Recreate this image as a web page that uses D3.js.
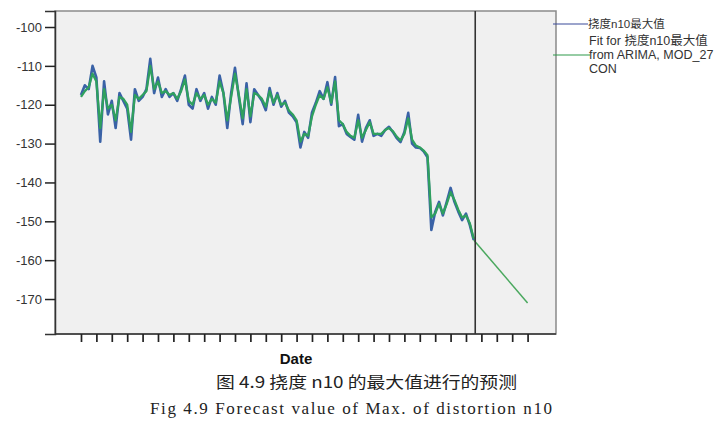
<!DOCTYPE html>
<html><head><meta charset="utf-8">
<script src="https://cdn.jsdelivr.net/npm/d3@7/dist/d3.min.js"></script>
<style>body{margin:0;background:#fff}svg{display:block}</style>
</head><body><svg id="c" width="720" height="435"></svg>
<script>
const observed = [
-117.5,-115,-116,-110,-113,-129.5,-114,-122.5,-119,-126,
-117,-119,-121,-129,-116,-119,-118,-116,-108.2,-117,
-113,-118,-116,-118,-117,-119,-116,-112.5,-120,-121,
-116,-119,-117,-121,-118,-120,-112.5,-117,-126,-117,
-110.5,-118,-125,-114.5,-124.5,-116,-117.5,-119,-121.4,-115.7,
-120,-117,-120.5,-119,-122,-123,-124.5,-131,-127,-128.5,
-122,-119.5,-116.5,-118.5,-114.2,-120,-112.9,-125.5,-125,-127.5,
-128.3,-129,-122.6,-129.5,-126,-124,-128,-127.5,-128,-126.5,
-125.7,-127,-128.6,-129.6,-127,-122.1,-130,-131,-131.1,-132,
-133.5,-152.2,-147.6,-145,-148.5,-145,-141.4,-145,-147.5,-149.7,
-148,-151,-154.8];
const fitted = [
-118,-116.5,-115.5,-112,-114,-126,-116,-121,-120,-124,
-118,-118.5,-120,-127,-117.5,-118.5,-117.5,-116.5,-110,-116,
-114,-117,-116.5,-117.5,-117,-118.5,-116.5,-113.5,-119,-120,
-117,-118.5,-117.5,-120,-118.5,-119.5,-114,-117,-124,-118,
-112,-117.5,-123.5,-116,-123,-117,-117.5,-118.5,-120.5,-116.5,
-119.5,-117.5,-120,-119.5,-121.5,-122.5,-124,-129.5,-127.5,-128,
-123,-120,-117.5,-118.5,-115.5,-119.5,-114,-124,-125,-127,
-128,-128.5,-124,-128.5,-126.5,-124.5,-127.5,-127.5,-127.5,-126.5,
-126,-126.8,-128.2,-129.2,-127.5,-123.5,-129,-130.5,-131,-131.8,
-133,-149,-148,-145.5,-148,-145.5,-142.5,-144.5,-147,-149,
-148.5,-150.5,-154.5];
const forecastIdx = [102, 116];
const forecastVal = [-154.8, -171];
const forecastStart = 102.4;
const yTicks = [-100,-110,-120,-130,-140,-150,-160,-170];
const xTickIdx = d3.range(0, 117, 4);
const legendLabels = ["挠度n10最大值", "Fit for 挠度n10最大值", "from ARIMA, MOD_27", "CON"];
const xTitle = "Date";
const captionCN = "图 4.9 挠度 n10 的最大值进行的预测";
const captionEN = "Fig 4.9 Forecast value of Max. of distortion n10";

const svg = d3.select("#c");
const L = 55, T = 11, R = 556, B = 334;
const x = d3.scaleLinear().domain([-6.75, 123.38]).range([L, R]);
const y = d3.scaleLinear().domain([-179.0, -95.88]).range([B, T]);

svg.append("rect").attr("x", L).attr("y", T).attr("width", R - L).attr("height", B - T)
  .attr("fill", "#f0f0f0").attr("stroke", "#8a8a8a").attr("stroke-width", 1.5);

const line = d3.line().x(d => x(d[0])).y(d => y(d[1]));
svg.append("path").datum(observed.map((v, i) => [i, v]))
  .attr("d", line).attr("fill", "none").attr("stroke", "#3a62a6").attr("stroke-width", 2.6).attr("stroke-linejoin", "round");
svg.append("path").datum(fitted.map((v, i) => [i, v]))
  .attr("d", line).attr("fill", "none").attr("stroke", "#2fa05e").attr("stroke-width", 2.3).attr("stroke-linejoin", "round");
svg.append("path").datum(forecastVal.map((v, i) => [forecastIdx[i], v]))
  .attr("d", line).attr("fill", "none").attr("stroke", "#4aa85e").attr("stroke-width", 1.5);

svg.append("line").attr("x1", x(forecastStart)).attr("x2", x(forecastStart))
  .attr("y1", T).attr("y2", B).attr("stroke", "#333").attr("stroke-width", 1.6);

const yAxis = svg.append("g").attr("transform", `translate(${L},0)`)
  .call(d3.axisLeft(y).tickValues(yTicks).tickSize(10).tickPadding(3).tickFormat(d => String(d)));
yAxis.select(".domain").attr("stroke", "#333").attr("stroke-width", 1.5);
yAxis.selectAll(".tick line").attr("stroke", "#222").attr("stroke-width", 1.5);
yAxis.selectAll("text").attr("font-family", "Liberation Sans, Arial, sans-serif").attr("font-size", 13).attr("fill", "#333");

const xAxis = svg.append("g").attr("transform", `translate(0,${B})`)
  .call(d3.axisBottom(x).tickValues(xTickIdx).tickSize(8).tickFormat(""));
xAxis.select(".domain").attr("stroke", "#333").attr("stroke-width", 1.5).attr("d", `M${L},0H${R}`);
xAxis.selectAll(".tick line").attr("stroke", "#222").attr("stroke-width", 1.7);

svg.append("text").attr("x", 296).attr("y", 364).attr("text-anchor", "middle")
  .attr("font-family", "Liberation Sans, Arial, sans-serif").attr("font-weight", "bold").attr("font-size", 15)
  .attr("fill", "#111").text(xTitle);

// legend
svg.append("line").attr("x1", 553).attr("x2", 588).attr("y1", 24).attr("y2", 24).attr("stroke", "#3a4a9a").attr("stroke-width", 1.2);
svg.append("line").attr("x1", 553).attr("x2", 590).attr("y1", 55).attr("y2", 55).attr("stroke", "#2f9a4a").attr("stroke-width", 1.2);
const lg = svg.append("g").attr("font-family", "Liberation Sans, Arial, 'Noto Sans CJK SC', sans-serif").attr("font-size", 12.5).attr("fill", "#333");
lg.append("text").attr("x", 588).attr("y", 28).attr("font-size", 11.5).text(legendLabels[0]);
lg.append("text").attr("x", 589).attr("y", 45).text(legendLabels[1]);
lg.append("text").attr("x", 589).attr("y", 59).text(legendLabels[2]);
lg.append("text").attr("x", 589).attr("y", 73).text(legendLabels[3]);

svg.append("text").attr("x", 216).attr("y", 388).attr("font-family", "'Noto Sans CJK SC', sans-serif")
  .attr("font-size", 16).attr("fill", "#222").attr("textLength", 301).attr("lengthAdjust", "spacingAndGlyphs").text(captionCN);
svg.append("text").attr("x", 150).attr("y", 414).attr("font-family", "'Liberation Serif', 'DejaVu Serif', serif")
  .attr("font-size", 17).attr("fill", "#222").attr("textLength", 402).attr("lengthAdjust", "spacing").text(captionEN);
</script></body></html>
